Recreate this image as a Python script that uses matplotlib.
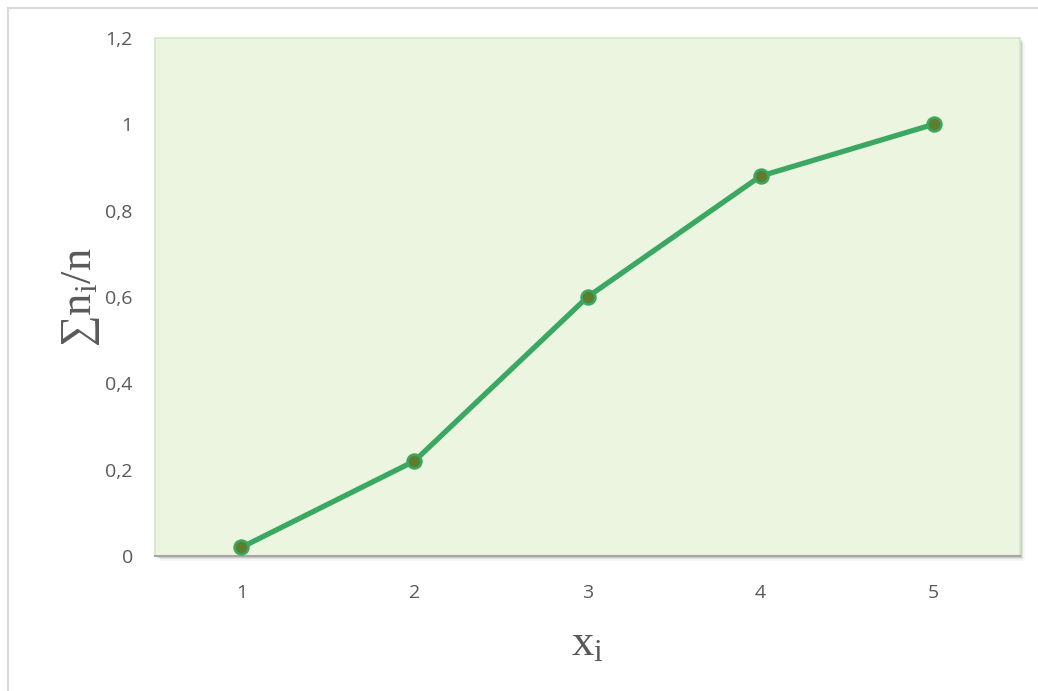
import matplotlib.pyplot as plt
from matplotlib.lines import Line2D
from matplotlib.patches import Rectangle

# cumulative relative frequency
x_vals = [1, 2, 3, 4, 5]
cum_freq = [0.02, 0.22, 0.60, 0.88, 1.00]
x_labels = ['1', '2', '3', '4', '5']
y_ticks = [0, 0.2, 0.4, 0.6, 0.8, 1.0, 1.2]
y_labels = ['0', '0,2', '0,4', '0,6', '0,8', '1', '1,2']

plt.rcParams['mathtext.fontset'] = 'custom'
plt.rcParams['mathtext.rm'] = 'Liberation Serif'
plt.rcParams['mathtext.it'] = 'Liberation Serif'
plt.rcParams['mathtext.bf'] = 'Liberation Serif'

fig = plt.figure(figsize=(10.38, 6.91), dpi=100)
ax = fig.add_axes([0.1493, 0.1954, 0.8334, 0.7496])

# soft shadow behind the plot area
for i, a in enumerate([0.10, 0.07, 0.04]):
    off = (i + 1) * 1.5
    sh = Rectangle(((155 + off) / 1038, 1 - (556 + off) / 691), 865 / 1038, 518 / 691,
                   transform=fig.transFigure, facecolor='#000000', alpha=a,
                   edgecolor='none', zorder=-2)
    fig.patches.append(sh)

ax.set_facecolor('#ebf5df')
for s in ['top', 'right', 'left']:
    ax.spines[s].set_color('#d3e8c4')
    ax.spines[s].set_linewidth(1.2)
ax.spines['bottom'].set_color('#a6a6a6')
ax.spines['bottom'].set_linewidth(1.5)

ax.plot(x_vals, cum_freq, color='#3aa862', linewidth=3.8, marker='o',
        markersize=10, markerfacecolor='#5b7f2e', markeredgecolor='#3aa862',
        markeredgewidth=1.8, solid_capstyle='round', zorder=3)

ax.set_xlim(0.5, 5.5)
ax.set_ylim(0, 1.2)
ax.set_xticks(x_vals)
ax.set_xticklabels(x_labels)
ax.set_yticks(y_ticks)
ax.set_yticklabels(y_labels)
ax.tick_params(axis='both', length=0, labelsize=14, colors='#595959')
ax.tick_params(axis='x', pad=20)
ax.tick_params(axis='y', pad=16)
for lab in ax.get_xticklabels() + ax.get_yticklabels():
    lab.set_fontfamily('Open Sans')

ax.set_xlabel(r'$\mathregular{x_i}$', fontsize=32, color='#595959',
              family='Liberation Serif', labelpad=16)
ax.set_ylabel('\u2211' + r'$\mathregular{n_i}$/n', fontsize=32, color='#595959',
              family='Liberation Serif', labelpad=2)

# outer chart frame
fig.add_artist(Line2D([7.5 / 1038, 7.5 / 1038], [0, 1 - 8 / 691],
                      transform=fig.transFigure, color='#d9d9d9', linewidth=1.5))
fig.add_artist(Line2D([7.5 / 1038, 1], [1 - 8 / 691, 1 - 8 / 691],
                      transform=fig.transFigure, color='#d9d9d9', linewidth=1.5))

fig.savefig('out.png', dpi=100)
